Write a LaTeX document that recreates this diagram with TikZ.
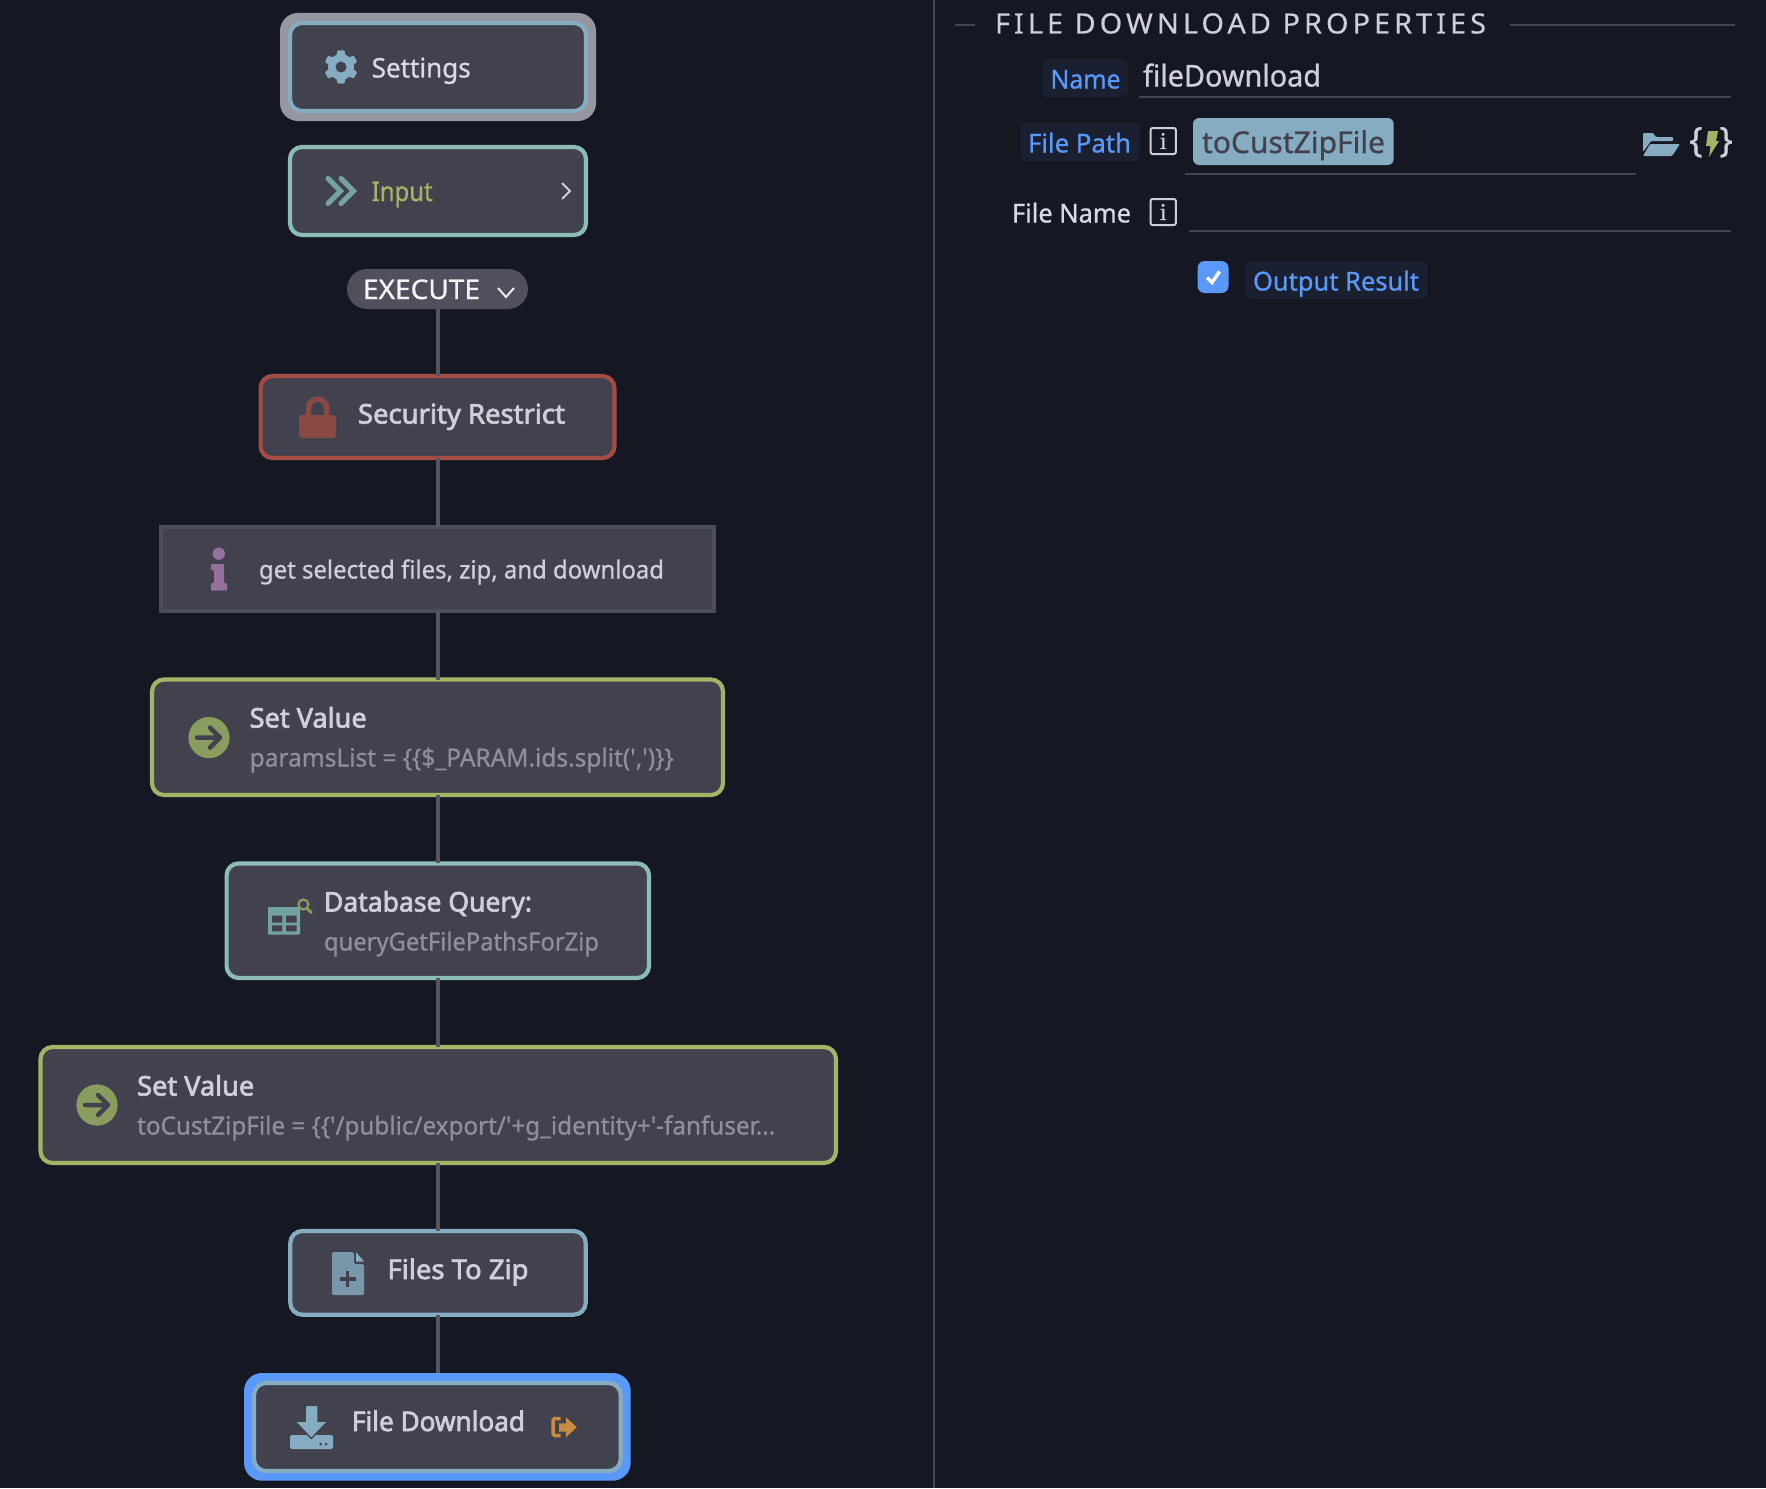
\documentclass[tikz,border=0pt]{standalone}
\usepackage{fontspec}
\usepackage{graphicx}
\newfontfamily\regf[FakeBold=0.8]{Noto Sans}
\newfontfamily\semif[FakeBold=2.6]{Noto Sans}
\newfontfamily\spacedf[LetterSpace=14,FakeBold=0.4]{Noto Sans}
\newfontfamily\seriff[FakeBold=1]{Liberation Serif}
\definecolor{bgc}{HTML}{151823}
\definecolor{boxc}{HTML}{42424E}
\definecolor{steelc}{HTML}{85ACC1}
\definecolor{tealc}{HTML}{8BBDB5}
\definecolor{chevc}{HTML}{76A39F}
\definecolor{tablec}{HTML}{73A3A0}
\definecolor{redc}{HTML}{A34D45}
\definecolor{lockc}{HTML}{8A4A44}
\definecolor{greenc}{HTML}{A3B565}
\definecolor{dgreenc}{HTML}{8B9C5F}
\definecolor{greyc}{HTML}{9696A1}
\definecolor{blueh}{HTML}{5A98FB}
\definecolor{linec}{HTML}{55565F}
\definecolor{infob}{HTML}{4D4E5B}
\definecolor{infoi}{HTML}{94709A}
\definecolor{execc}{HTML}{50505C}
\definecolor{orangec}{HTML}{C98C40}
\definecolor{titlec}{HTML}{CFCFDC}
\definecolor{settc}{HTML}{D8D8EA}
\definecolor{subc}{HTML}{8E8E9C}
\definecolor{pillc}{HTML}{1A2030}
\definecolor{rulec}{HTML}{45454F}
\newsavebox\fitbox
\newcommand\fitw[2]{\sbox\fitbox{#2}\pgfmathsetmacro\fitf{#1/(\wd\fitbox/1pt)}\scalebox{\fitf}[1]{\usebox\fitbox}}
\newcommand\sz[1]{\fontsize{#1}{#1}\selectfont}
% name, x, baseline y, width, colour, font, text
\newcommand\tx[7]{\node[anchor=base west,inner sep=0pt,outer sep=0pt,text=#5] (#1) at (#2,#3) {\fitw{#4}{#6#7}};}
% style, name, x1,y1,x2,y2
\newcommand\bx[6]{\pgfmathsetmacro\bxw{#5-#3}\pgfmathsetmacro\bxh{#6-#4}\pgfmathsetmacro\bxcx{(#3+#5)/2}\pgfmathsetmacro\bxcy{(#4+#6)/2}\node[#1,minimum width=\bxw pt,minimum height=\bxh pt] (#2) at (\bxcx,\bxcy) {};}
\tikzset{
  flat/.style={inner sep=0pt,outer sep=0pt,rounded corners=#1},
  nodebox/.style={inner sep=0pt,outer sep=0pt,rounded corners=12pt,fill=boxc,draw=#1,line width=4.2pt},
  halo/.style={inner sep=0pt,outer sep=0pt,rounded corners=18pt,fill=#1},
  link/.style={draw=linec,line width=4pt},
  rule/.style={draw=rulec,line width=2pt},
  ibox/.style={draw=titlec,line width=2pt,rounded corners=2pt,inner sep=0pt,outer sep=0pt},
}
\newcommand\arrowicon[2]{\begin{scope}[shift={(#1,#2)}]
\fill[dgreenc] (0,0) circle[radius=20.6];
\draw[boxc,line width=4.5pt,line cap=round,line join=round] (-12,0) -- (11,0) (1,-10) -- (11,0) -- (1,10);
\end{scope}}
\begin{document}
\begin{tikzpicture}[x=1pt,y=-1pt]
\useasboundingbox (0,0) rectangle (1766,1488);
\fill[bgc] (0,0) rectangle (1766,1488);
% ---------- left column boxes
\bx{halo=greyc}{settingshalo}{280}{13}{596}{121}
\bx{nodebox=steelc}{settings}{290}{23}{586}{111}
\bx{nodebox=tealc}{input}{290}{147}{586}{235}
\bx{flat=20pt,fill=execc}{execute}{347}{269}{528}{309}
\bx{nodebox=redc}{security}{260.6}{376}{614.5}{458}
\bx{nodebox=infob,rounded corners=0pt}{info}{161}{527}{714}{611}
\bx{nodebox=greenc}{setvalA}{152}{679.5}{723}{795}
\bx{nodebox=tealc}{dbquery}{226.6}{863.4}{649}{978}
\bx{nodebox=greenc}{setvalB}{40.5}{1047}{836}{1163}
\bx{nodebox=steelc}{zipfiles}{290.3}{1231}{585.7}{1314.7}
\bx{halo=blueh}{downloadhalo}{244}{1373}{630.7}{1480.7}
\bx{nodebox=steelc}{download}{254}{1383}{620.7}{1471}
% ---------- connectors
\draw[link] (execute.south) -- (execute.south |- security.north);
\draw[link] (security.south) -- (security.south |- info.north);
\draw[link] (info.south) -- (info.south |- setvalA.north);
\draw[link] (setvalA.south) -- (setvalA.south |- dbquery.north);
\draw[link] (dbquery.south) -- (dbquery.south |- setvalB.north);
\draw[link] (setvalB.south) -- (setvalB.south |- zipfiles.north);
\draw[link] (zipfiles.south) -- (zipfiles.south |- downloadhalo.north);
% ---------- left column text
\tx{tsettings}{371.7}{77.5}{99}{settc}{\regf\sz{27}}{Settings}
\tx{tinput}{371.7}{201}{61}{greenc}{\regf\sz{27}}{Input}
\tx{texecute}{363}{299}{117}{white!94!boxc}{\regf\sz{27}}{EXECUTE}
\tx{tsecurity}{358}{423.5}{207}{titlec}{\semif\sz{27}}{Security Restrict}
\tx{tinfo}{259}{578.5}{405}{titlec}{\regf\sz{25}}{get selected files, zip, and download}
\tx{tsvA}{249.7}{727.5}{117}{titlec}{\semif\sz{27}}{Set Value}
\tx{ssvA}{249.7}{766.5}{424}{subc}{\regf\sz{25}}{paramsList = \{\{\$\_PARAM.ids.split(',')\}\}}
\tx{tdb}{324}{911.5}{208}{titlec}{\semif\sz{27}}{Database Query:}
\tx{sdb}{324}{950.5}{275}{subc}{\regf\sz{25}}{queryGetFilePathsForZip}
\tx{tsvB}{137.2}{1095.5}{117}{titlec}{\semif\sz{27}}{Set Value}
\tx{ssvB}{137.2}{1134.5}{638}{subc}{\regf\sz{25}}{toCustZipFile = \{\{'/public/export/'+g\_identity+'-fanfuser...}
\tx{tzip}{387.5}{1279}{141}{titlec}{\semif\sz{27}}{Files To Zip}
\tx{tdown}{352}{1431}{173}{titlec}{\semif\sz{27}}{File Download}
% ---------- icons: gear
\begin{scope}[shift={(341,67)}]
\foreach \a in {30,90,150,210,270,330}{\fill[steelc,rotate=\a,rounded corners=1pt] (11,-4.5) -- (16.7,-3.5) -- (16.7,3.5) -- (11,4.5) -- cycle;}
\fill[steelc] (0,0) circle[radius=13];
\fill[boxc] (0,0) circle[radius=5.5];
\end{scope}
% chevrons
\draw[chevc,line width=5pt,line cap=round,line join=miter] (328,178.5) -- (340.5,191) -- (328,203.5);
\draw[chevc,line width=5pt,line cap=round,line join=miter] (341,178.5) -- (353.5,191) -- (341,203.5);
\draw[titlec,line width=2pt] (562,183) -- (570,191) -- (562,199);
\draw[white!90!boxc,line width=2pt] (498,288) -- (506,297) -- (514,288);
% lock
\draw[lockc,line width=5.5pt] (308.5,416) -- (308.5,408) arc[start angle=180,end angle=360,radius=9] -- (326.5,416);
\fill[lockc,rounded corners=3pt] (299,415) rectangle (336,438);
% info i
\fill[infoi] (218.8,553.7) circle[radius=6.2];
\fill[infoi,rounded corners=1pt] (211,564) -- (224,564) -- (224,583) -- (227,583) -- (227,590.5) -- (211,590.5) -- (211,583) -- (214,583) -- (214,570) -- (211,570) -- cycle;
\arrowicon{209}{737.6}
\arrowicon{97}{1105}
% table icon
\fill[tablec,rounded corners=1pt] (268,907) rectangle (300,934.5);
\fill[boxc] (272,915.6) rectangle (282.4,922.7) (286,915.6) rectangle (296.5,922.7) (272,925.4) rectangle (282.4,931.4) (286,925.4) rectangle (296.5,931.4);
\draw[dgreenc,line width=2.2pt] (303.4,904.5) circle[radius=5];
\draw[dgreenc,line width=2.8pt] (307,908.5) -- (312,913);
% file-plus icon
\fill[steelc!80!boxc,rounded corners=1.5pt] (332,1252) -- (354,1252) -- (354,1264) -- (364,1264) -- (364,1295) -- (332,1295) -- cycle;
\fill[steelc] (356,1252) -- (364,1261.5) -- (356,1261.5) -- cycle;
\draw[boxc,line width=3.5pt] (339.5,1279) -- (356,1279) (347.7,1271) -- (347.7,1287);
% download icon
\fill[steelc,rounded corners=2pt] (290,1435) rectangle (333,1449);
\draw[boxc,line width=3pt,fill=steelc] (296.7,1422) -- (326,1422) -- (311.3,1437.3) -- cycle;
\fill[steelc,rounded corners=1pt] (306,1406) -- (317.3,1406) -- (317.3,1424) -- (306,1424) -- cycle;
\fill[steelc] (296.7,1422) -- (326,1422) -- (311.3,1437.3) -- cycle;
\fill[boxc] (320.7,1444) circle[radius=1.5] (326,1444) circle[radius=1.5];
% exit icon
\draw[orangec,line width=3.5pt,rounded corners=1.5pt] (560.7,1418.5) -- (553,1418.5) -- (553,1435.5) -- (560.7,1435.5);
\fill[orangec] (559,1423.3) -- (566,1423.3) -- (566,1417.3) -- (576.7,1427.3) -- (566,1437.3) -- (566,1431.7) -- (559,1431.7) -- cycle;
% ---------- right panel
\coordinate (divtop) at (934,0);
\coordinate (divbot) at (934,1488);
\draw[rulec!80!linec,line width=2pt] (divtop) -- (divbot);
\tx{ttitle}{995}{33.5}{491}{titlec}{\spacedf\sz{28}}{FILE DOWNLOAD PROPERTIES}
\coordinate (tl1) at (955,24.7);
\coordinate (tl2) at (975,24.7);
\coordinate (tr1) at (1510,24.7);
\coordinate (tr2) at (1735,24.7);
\draw[rule] (tl1) -- (tl2);
\draw[rule] (tr1) -- (tr2);
% name row
\bx{flat=6pt,fill=pillc}{pname}{1042}{59}{1128}{97}
\tx{tname}{1050.5}{88.5}{70}{blueh}{\regf\sz{26}}{Name}
\tx{tfile}{1143}{86.5}{178}{titlec}{\regf\sz{30}}{fileDownload}
\coordinate (ra1) at (1139,97);
\coordinate (ra2) at (1731,97);
\draw[rule] (ra1) -- (ra2);
% file path row
\bx{flat=6pt,fill=pillc}{ppath}{1020.6}{123}{1139.5}{161}
\tx{tpath}{1028}{152.5}{103}{blueh}{\regf\sz{26}}{File Path}
\bx{ibox}{iboxA}{1150.6}{128}{1175.8}{154}
\node[text=titlec,inner sep=0pt] (iA) at (iboxA.center) {\seriff\sz{24}i};
\bx{flat=6pt,fill=steelc}{tag}{1193}{118}{1393.7}{165}
\tx{ttag}{1202}{153}{183}{boxc}{\regf\sz{30}}{toCustZipFile}
\coordinate (rb1) at (1185,173.7);
\coordinate (rb2) at (1636,173.7);
\draw[rule] (rb1) -- (rb2);
% folder
\fill[steelc,rounded corners=1pt] (1643,133) -- (1653,133) -- (1656,137) -- (1673,137) -- (1673,141) -- (1651,141) -- (1643,152) -- cycle;
\fill[steelc,rounded corners=1pt] (1650,144) -- (1680,144) -- (1672,156) -- (1643,156) -- cycle;
% braces and bolt
\node[anchor=base west,inner sep=0pt,text=titlec] (bl) at (1689,152) {\regf\sz{35}\{};
\node[anchor=base east,inner sep=0pt,text=titlec] (br) at (1733,152) {\regf\sz{35}\}};
\fill[greenc] (1708,131) -- (1718,131) -- (1716,141) -- (1719,141) -- (1709,157) -- (1710.5,146) -- (1706,146) -- cycle;
% file name row
\tx{tfname}{1012}{222.5}{119}{settc}{\regf\sz{26}}{File Name}
\bx{ibox}{iboxB}{1150.6}{199}{1175.8}{225}
\node[text=titlec,inner sep=0pt] (iB) at (iboxB.center) {\seriff\sz{24}i};
\coordinate (rc1) at (1189,230.5);
\coordinate (rc2) at (1731,230.5);
\draw[rule] (rc1) -- (rc2);
% output result
\bx{flat=7pt,fill=blueh}{check}{1197.6}{261}{1228.5}{293}
\draw[white,line width=3.5pt] (1207,277.5) -- (1212,282.5) -- (1219.5,271.5);
\bx{flat=6pt,fill=pillc}{poutput}{1245}{261}{1427}{299}
\tx{toutput}{1253}{290.5}{166}{blueh}{\regf\sz{26}}{Output Result}
\end{tikzpicture}
\end{document}
